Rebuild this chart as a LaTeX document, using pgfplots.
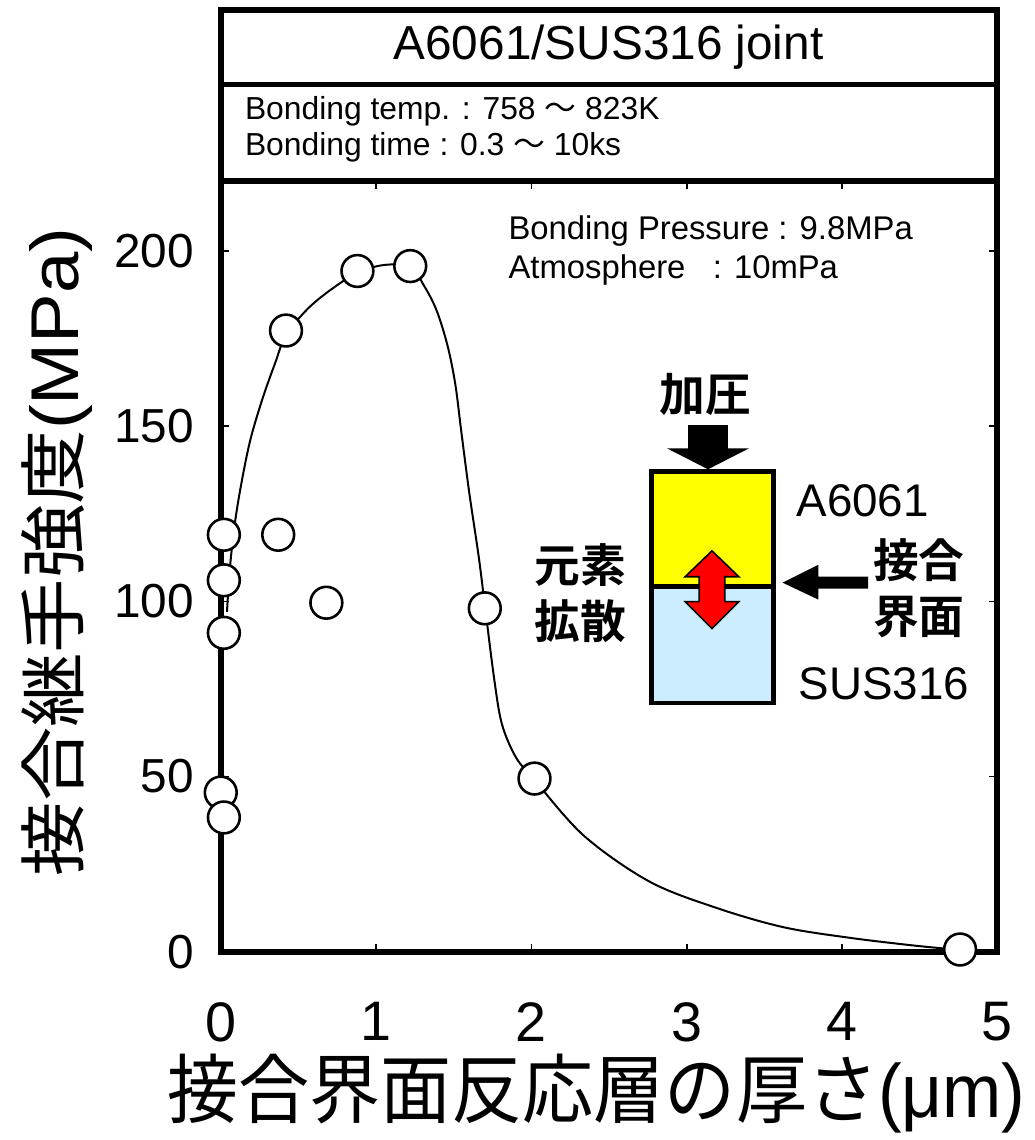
\documentclass[border=0pt]{standalone}
\usepackage{pgfplots}
\pgfplotsset{compat=1.18}
\usepackage{graphicx}
\usepackage{fontspec}
\setmainfont{Liberation Sans}
\newfontfamily\cjk{Noto Sans CJK JP}
\newfontfamily\cjkb{Noto Sans CJK JP Bold}
\definecolor{ylw}{RGB}{255,255,0}
\definecolor{lblue}{RGB}{204,236,255}

\begin{document}
\begin{tikzpicture}
\begin{scope}[xshift=-111pt,yshift=478.5pt,x=0.5pt,y=-0.5pt]
\useasboundingbox (0,0) rectangle (1040,1140);
\end{scope}
\begin{axis}[at={(0,0)},anchor=south west,
  scale only axis, width=390.5pt, height=387.5pt,
  xmin=0, xmax=5, ymin=0, ymax=220,
  xtick={0,1,2,3,4,5}, ytick={0,50,100,150,200},
  tick align=inside, major tick length=4pt,
  axis line style={line width=3pt},
  tick style={line width=0.8pt, black},
  clip=false,
  /pgf/number format/assume math mode=true,
  xticklabel style={font=\fontsize{28}{28}\selectfont, yshift=-22pt},
  yticklabel style={font=\fontsize{24}{24}\selectfont, xshift=-10pt},
]
\addplot[smooth, tension=0.55, line width=1pt, black, mark=none] coordinates {
(0.04,97) (0.06,110) (0.09,122) (0.13,133) (0.19,146) (0.27,158) (0.35,168)
(0.42,176) (0.56,183.5) (0.71,189) (0.88,193.8) (1.05,196) (1.22,195.5)
(1.31,190) (1.39,183) (1.46,173) (1.51,162) (1.55,148) (1.60,131) (1.66,113) (1.70,99)
(1.76,78) (1.81,65) (1.90,55.5) (2.02,49) (2.34,33) (2.76,20) (3.19,12.5)
(3.62,7) (4.04,4) (4.47,1.7) (4.76,0.5)
};
\addplot[only marks, mark=*, mark size=8pt,
  mark options={fill=white, draw=black, line width=1.3pt}] coordinates {
(0.02,119) (0.02,106) (0.02,91) (0.00,45.4) (0.02,38.3) (0.37,119)
(0.42,177.3) (0.68,99.6) (0.88,194.3) (1.22,195.7) (1.70,98) (2.02,49.4)
(4.76,0.6)
};
\end{axis}
\begin{scope}[xshift=-111pt,yshift=478.5pt,x=0.5pt,y=-0.5pt]
% title frame
\draw[line width=3pt, line join=miter] (222,182) -- (222,10) -- (1003,10) -- (1003,182);
\draw[line width=3pt] (222,85) -- (1003,85);
\node at (612,47) {\fontsize{24}{24}\selectfont A6061/SUS316 joint};
\node[anchor=west, align=left, inner sep=0pt, font=\fontsize{16}{18}\selectfont] at (246,130)
  {Bonding temp. : 758 {\cjk ～} 823K\\Bonding time : 0.3 {\cjk ～} 10ks};
\node[anchor=west, align=left, inner sep=0pt, font=\fontsize{16.5}{20}\selectfont] at (511,252)
  {Bonding Pressure : 9.8MPa\\Atmosphere\ \ \ : 10mPa};
% schematic
\fill[ylw] (655,474) rectangle (778,590);
\fill[lblue] (655,590) rectangle (778,707);
\draw[line width=2.5pt] (655,474) rectangle (778,707);
\draw[line width=2.5pt] (655,590) -- (778,590);
\fill[black] (692,427) rectangle (732,452);
\fill[black] (671,451) -- (753,451) -- (712,472) -- cycle;
\filldraw[fill=red, draw=black, line width=0.8pt]
  (716,554) -- (743,580) -- (729,580) -- (729,605) -- (743,605) -- (716,632)
  -- (689,605) -- (703,605) -- (703,580) -- (689,580) -- cycle;
\fill[black] (787,586) -- (823,568) -- (823,580) -- (873,580) -- (873,592)
  -- (823,592) -- (823,603) -- cycle;
\node at (709,397) {\cjkb\fontsize{23}{23}\selectfont 加圧};
\node[anchor=west] at (794,504) {\fontsize{23}{23}\selectfont A6061};
\node[anchor=west] at (796,688) {\fontsize{23}{23}\selectfont SUS316};
\node at (924,563) {\cjkb\fontsize{23}{23}\selectfont 接合};
\node at (924,621) {\cjkb\fontsize{23}{23}\selectfont 界面};
\node at (584,568) {\cjkb\fontsize{23}{23}\selectfont 元素};
\node at (584,625) {\cjkb\fontsize{23}{23}\selectfont 拡散};
% axis labels
\node at (600,1100) {\cjk\fontsize{38}{38}\selectfont\scalebox{0.94}[1]{接合界面反応層の厚さ{\rmfamily(μm)}}};
\node[rotate=90] at (57,555) {\cjk\fontsize{34}{34}\selectfont\scalebox{1.1}[1]{接合継手強度{\rmfamily(MPa)}}};
\end{scope}
\end{tikzpicture}
\end{document}
